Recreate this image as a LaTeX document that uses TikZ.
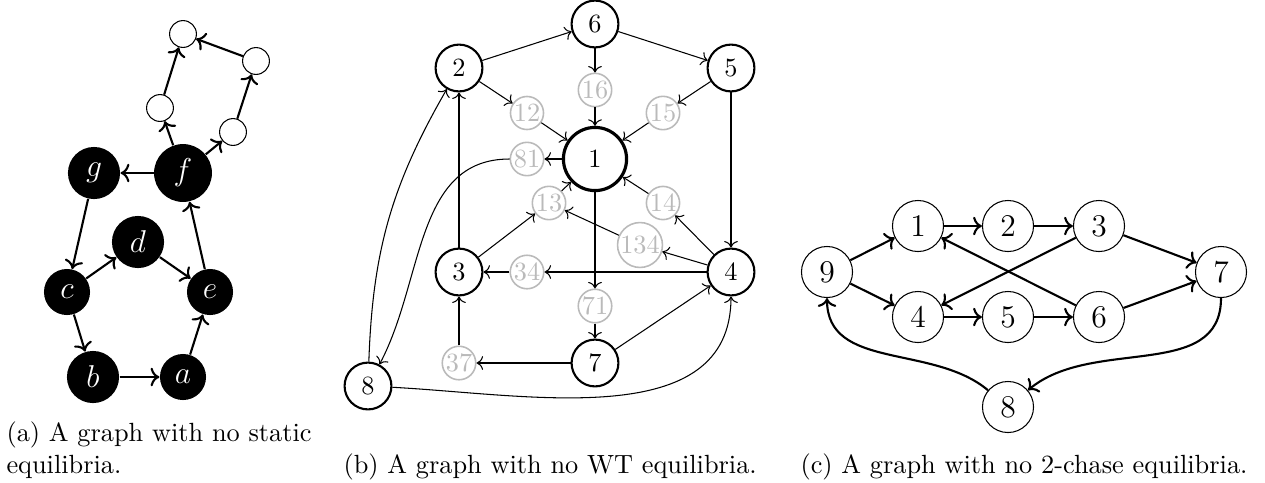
\documentclass[tikz,border=0pt]{standalone}
\usetikzlibrary{arrows.meta}
\begin{document}
\begin{tikzpicture}[x=0.38pt,y=-0.38pt,
 blk/.style={circle, fill=black, text=white, inner sep=0pt, font=\large},
 wht/.style={circle, draw, thin, inner sep=0pt, minimum size=10.2pt},
 aedge/.style={->, thick},
 bnode/.style={circle, draw, thick, inner sep=0pt, minimum size=17.8pt},
 gnode/.style={circle, draw=black!27, text=black!27, semithick, inner sep=0.2pt},
 bedge/.style={->},
 cnode/.style={circle, draw, thin, inner sep=0pt, minimum size=19.4pt, font=\large},
 cedge/.style={->, thick},
 captext/.style={anchor=base west, inner sep=0pt}]
\useasboundingbox (0,0) rectangle (1265,482);
% ---------- (a)
\node[blk, minimum size=22pt] (f) at (183,173) {$f$};
\node[blk, minimum size=19.8pt] (g) at (94,173) {$g$};
\node[blk, minimum size=19.8pt] (d) at (138,242) {$d$};
\node[blk, minimum size=17.5pt] (c) at (67,292) {$c$};
\node[blk, minimum size=17.5pt] (e) at (210,292) {$e$};
\node[blk, minimum size=19.8pt] (b) at (93,377) {$b$};
\node[blk, minimum size=17.5pt] (a) at (183,377) {$a$};
\node[wht] (w1) at (183,34) {};
\node[wht] (w2) at (256,61) {};
\node[wht] (w3) at (160,108) {};
\node[wht] (w4) at (233,132) {};
\draw[aedge] (f) -- (g);
\draw[aedge] (g) -- (c);
\draw[aedge] (c) -- (d);
\draw[aedge] (d) -- (e);
\draw[aedge] (c) -- (b);
\draw[aedge] (b) -- (a);
\draw[aedge] (a) -- (e);
\draw[aedge] (e) -- (f);
\draw[aedge] (f) -- (w3);
\draw[aedge] (w3) -- (w1);
\draw[aedge] (f) -- (w4);
\draw[aedge] (w4) -- (w2);
\draw[aedge] (w2) -- (w1);
\node[captext, align=left] (capa) at (6,473) {(a) A graph with no static\\equilibria.};
% ---------- (b)
\node[bnode] (n6) at (595,24) {6};
\node[bnode] (n2) at (459,68) {2};
\node[bnode] (n5) at (731,68) {5};
\node[bnode, very thick, minimum size=24pt] (n1) at (595,159) {1};
\node[bnode] (n3) at (459,272) {3};
\node[bnode] (n4) at (731,272) {4};
\node[bnode] (n7) at (595,363) {7};
\node[bnode] (n8) at (368,386) {8};
\node[gnode] (g16) at (595,90) {16};
\node[gnode] (g12) at (527,113) {12};
\node[gnode] (g15) at (663,113) {15};
\node[gnode] (g81) at (527,159) {81};
\node[gnode] (g13) at (549,203) {13};
\node[gnode] (g14) at (663,203) {14};
\node[gnode] (g134) at (640,245) {134};
\node[gnode] (g34) at (527,272) {34};
\node[gnode] (g71) at (595,306) {71};
\node[gnode] (g37) at (459,363) {37};
\draw[bedge] (n2) -- (n6);
\draw[bedge] (n6) -- (n5);
\draw[bedge] (n6) -- (g16);
\draw[bedge] (g16) -- (n1);
\draw[bedge] (n2) -- (g12);
\draw[bedge] (g12) -- (n1);
\draw[bedge] (n5) -- (g15);
\draw[bedge] (g15) -- (n1);
\draw[bedge] (n1) -- (g81);
\draw[bedge] (g81) to[out=180,in=62] (n8);
\draw[bedge] (n8) to[bend left=14] (n2);
\draw[bedge] (n3) -- (n2);
\draw[bedge] (n3) -- (g13);
\draw[bedge] (g13) -- (n1);
\draw[bedge] (n1) -- (g71);
\draw[bedge] (g71) -- (n7);
\draw[bedge] (n4) -- (g14);
\draw[bedge] (g14) -- (n1);
\draw[bedge] (n4) -- (g134);
\draw[bedge] (g134) -- (g13);
\draw[bedge] (n4) -- (g34);
\draw[bedge] (g34) -- (n3);
\draw[bedge] (n5) -- (n4);
\draw[bedge] (n7) -- (n4);
\draw[bedge] (n7) -- (g37);
\draw[bedge] (g37) -- (n3);
\draw[bedge] (n8) to[out=-3,in=-90] (n4);
\node[captext] (capb) at (343,473) {(b) A graph with no WT equilibria.};
% ---------- (c)
\node[cnode] (c9) at (827,272) {9};
\node[cnode] (c1) at (918,226) {1};
\node[cnode] (c2) at (1008,226) {2};
\node[cnode] (c3) at (1099,226) {3};
\node[cnode] (c7) at (1221,272) {7};
\node[cnode] (c4) at (918,317) {4};
\node[cnode] (c5) at (1008,317) {5};
\node[cnode] (c6) at (1099,317) {6};
\node[cnode] (c8) at (1008,407) {8};
\draw[cedge] (c9) -- (c1);
\draw[cedge] (c9) -- (c4);
\draw[cedge] (c1) -- (c2);
\draw[cedge] (c2) -- (c3);
\draw[cedge] (c3) -- (c7);
\draw[cedge] (c3) -- (c4);
\draw[cedge] (c4) -- (c5);
\draw[cedge] (c5) -- (c6);
\draw[cedge] (c6) -- (c1);
\draw[cedge] (c6) -- (c7);
\draw[cedge] (c7) to[out=-90,in=40] (c8);
\draw[cedge] (c8) to[out=140,in=-90] (c9);
\node[captext] (capc) at (800,473) {(c) A graph with no 2-chase equilibria.};
\end{tikzpicture}
\end{document}
